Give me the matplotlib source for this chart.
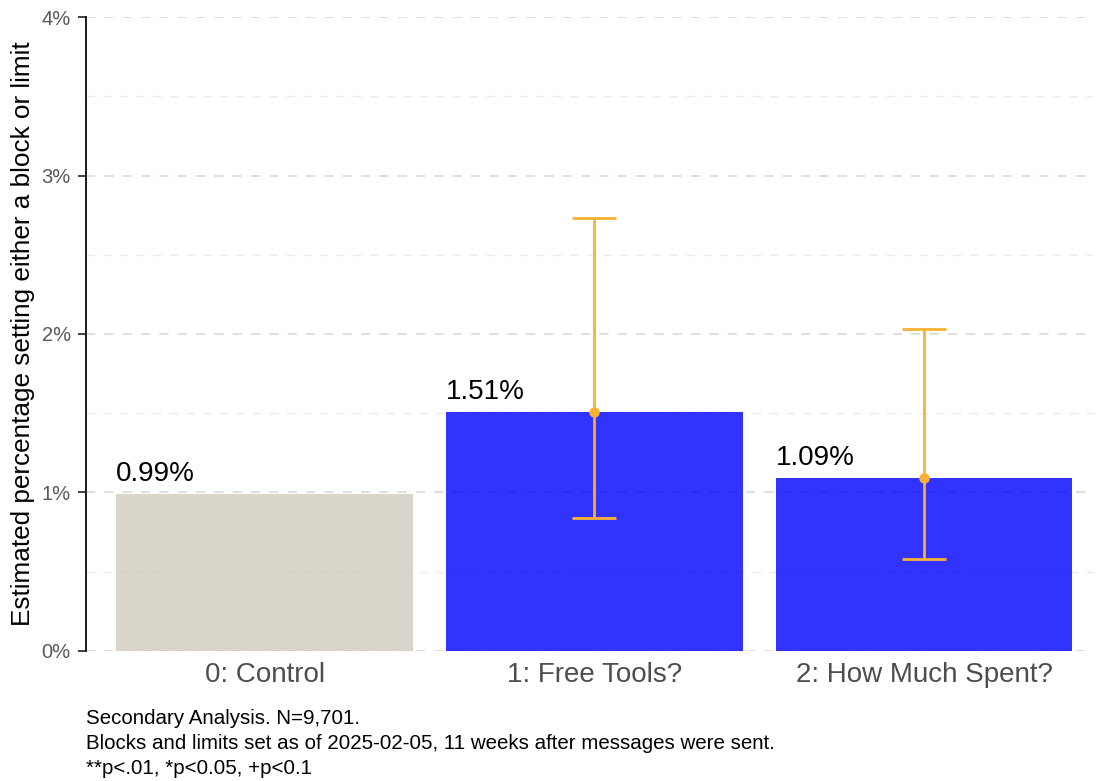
import numpy as np
import matplotlib

matplotlib.use("Agg")
import matplotlib.pyplot as plt

plt.rcParams["font.family"] = ["Liberation Sans", "DejaVu Sans"]

# ---------------------------------------------------------------------------
# Data
# ---------------------------------------------------------------------------
arms = ["0: Control", "1: Free Tools?", "2: How Much Spent?"]
estimates = [0.99, 1.51, 1.09]          # percent
ci_low = [np.nan, 0.84, 0.58]
ci_high = [np.nan, 2.73, 2.03]
bar_colors = ["#D0CBBF", "#0000FF", "#0000FF"]
y_ticks = [0, 1, 2, 3, 4]
y_tick_labels = ["0%", "1%", "2%", "3%", "4%"]
notes = [
    "Secondary Analysis. N=9,701.",
    "Blocks and limits set as of 2025-02-05, 11 weeks after messages were sent.",
    "**p<.01, *p<0.05, +p<0.1",
]

# ---------------------------------------------------------------------------
# Figure
# ---------------------------------------------------------------------------
fig = plt.figure(figsize=(10.96, 7.81), dpi=100)
ax = fig.add_axes([0.0785, 0.1665, 0.9195, 0.8117])

x = np.arange(1, len(arms) + 1)
width = 0.9

# dashed grid underneath; bars are semi-transparent so it shows through
for v in np.arange(0.5, 4.0, 1.0):
    ax.axhline(v, color="#EBEBEB", lw=1.0, ls=(0, (6, 6)), zorder=0)
for v in y_ticks:
    ax.axhline(v, color="#D6D6D6", lw=1.1, ls=(0, (6, 6)), zorder=0)

ax.bar(x, estimates, width=width, color=bar_colors, alpha=0.8, zorder=2)

# confidence intervals for the treatment arms
orange = "#F9B233"
for xi, est, lo, hi in zip(x, estimates, ci_low, ci_high):
    if np.isnan(lo):
        continue
    ax.errorbar(xi, est, yerr=[[est - lo], [hi - est]], fmt="o",
                color=orange, ecolor=orange, elinewidth=2.0,
                capsize=15.5, capthick=2.0, markersize=6.5, zorder=4)

# value labels at the left edge of each bar
for xi, est in zip(x, estimates):
    ax.annotate(f"{est:.2f}%", xy=(xi - width / 2, est),
                xytext=(0, 5), textcoords="offset points",
                ha="left", va="bottom", fontsize=20, color="black",
                zorder=5)

ax.set_xlim(0.458, 3.515)
ax.set_ylim(0, 4)
ax.set_xticks(x)
ax.set_xticklabels(arms, fontsize=20, color="#4D4D4D")
ax.tick_params(axis="x", length=0, pad=8)
ax.set_yticks(y_ticks)
ax.set_yticklabels(y_tick_labels, fontsize=14.5, color="#595959")
ax.tick_params(axis="y", length=6, width=1.3, color="#333333", pad=5)

ax.set_ylabel("Estimated percentage setting either a block or limit",
              fontsize=18.8, color="black", labelpad=5)

for side in ["top", "right", "bottom"]:
    ax.spines[side].set_visible(False)
ax.spines["left"].set_color("#1A1A1A")
ax.spines["left"].set_linewidth(1.4)

# footnotes under the chart
for i, line in enumerate(notes):
    fig.text(86 / 1096, 1 - (718 + 25.5 * i) / 781, line,
             fontsize=14.8, color="black", ha="left", va="center")

fig.savefig("out.png", dpi=100)
plt.close(fig)
